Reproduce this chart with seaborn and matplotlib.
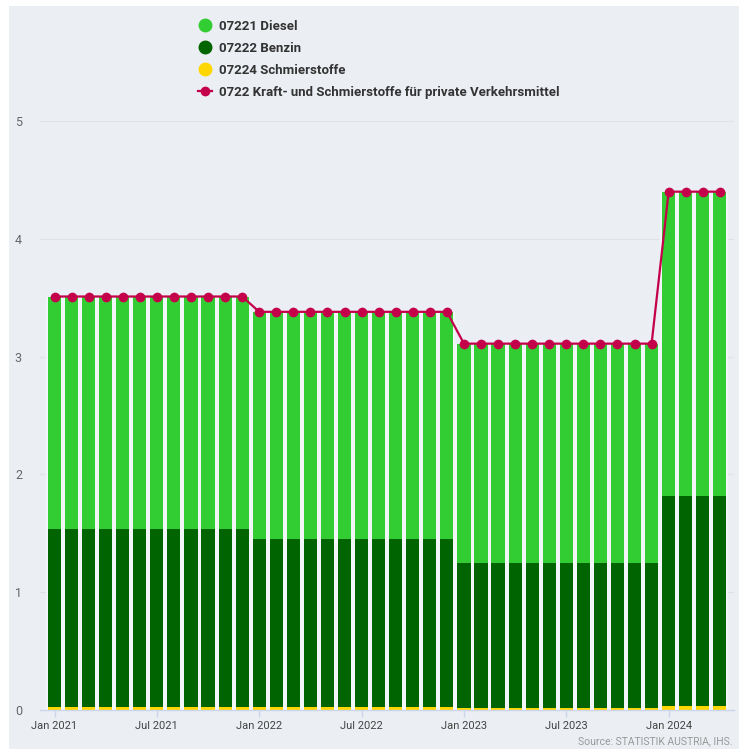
import numpy as np
import pandas as pd
import seaborn as sns
import matplotlib.pyplot as plt
from matplotlib.lines import Line2D
from matplotlib.patches import Rectangle

# Werte (Gewichte) je Monat, Jan 2021 - Apr 2024
monate = pd.date_range("2021-01-01", "2024-04-01", freq="MS").strftime("%b %Y").tolist()
diesel = [1.976] * 12 + [1.928] * 12 + [1.865] * 12 + [2.586] * 4
benzin = [1.509] * 12 + [1.427] * 12 + [1.232] * 12 + [1.784] * 4
schmier = [0.025] * 12 + [0.025] * 12 + [0.013] * 12 + [0.030] * 4
gesamt = [3.51] * 12 + [3.38] * 12 + [3.11] * 12 + [4.40] * 4

tick_pos = [0, 6, 12, 18, 24, 30, 36]
tick_labels = ["Jan 2021", "Jul 2021", "Jan 2022", "Jul 2022", "Jan 2023", "Jul 2023", "Jan 2024"]

labels = ["07221 Diesel", "07222 Benzin", "07224 Schmierstoffe",
          "0722 Kraft- und Schmierstoffe für private Verkehrsmittel"]
farben = ["#32cd32", "#006400", "#ffd700", "#c5004a"]

plt.rcParams['font.family'] = ['Roboto', 'DejaVu Sans']

fig = plt.figure(figsize=(7.39, 7.49), dpi=100)
bg = "#ebeef3"
fig.patches.append(Rectangle((9 / 739, 0), 730 / 739, 743 / 749, transform=fig.transFigure,
                             facecolor=bg, edgecolor="none", zorder=-5))
ax = fig.add_axes([40 / 739, (749 - 710) / 749, 694 / 739, (710 - 115.1) / 749])
ax.set_facecolor("none")

df = pd.DataFrame({"monat": monate, "diesel": diesel, "benzin": benzin, "schmier": schmier})
df["oben"] = df["diesel"] + df["benzin"] + df["schmier"]
df["mitte"] = df["benzin"] + df["schmier"]

# helle Lücken zwischen den Balken
sns.barplot(data=df, x="monat", y="oben", color="#f3f6f9", saturation=1, width=1.0,
            linewidth=0, errorbar=None, ax=ax, zorder=1)

# gestapelte Balken, von oben nach unten übermalt
for spalte, farbe in [("oben", farben[0]), ("mitte", farben[1]), ("schmier", farben[2])]:
    sns.barplot(data=df, x="monat", y=spalte, color=farbe, saturation=1, width=0.77,
                linewidth=0, errorbar=None, ax=ax, zorder=2)

sns.lineplot(x=np.arange(len(gesamt)), y=gesamt, color=farben[3], linewidth=1.6,
             marker="o", markersize=7, markeredgewidth=0, legend=False, ax=ax, zorder=3)

ax.set_xlim(-0.85, 39.83)
ax.set_ylim(0, 5.05)
ax.set_yticks([0, 1, 2, 3, 4, 5])
ax.grid(axis="y", color="#dfe3e8", linewidth=0.8, zorder=0)
ax.set_axisbelow(True)
ax.set_xticks(tick_pos)
ax.set_xticklabels(tick_labels)
ax.set_xlabel("")
ax.set_ylabel("")
for s in ["top", "right", "left"]:
    ax.spines[s].set_visible(False)
ax.spines["bottom"].set_color("#ccd6eb")
ax.spines["bottom"].set_linewidth(1)
ax.tick_params(axis="x", colors="#ccd6eb", length=5, width=1, labelsize=8, labelcolor="#444444", pad=3)
ax.tick_params(axis="y", length=0, labelsize=9, labelcolor="#666666", pad=13)

handles = [
    Line2D([], [], linestyle="none", marker="o", markersize=9, color=farben[0]),
    Line2D([], [], linestyle="none", marker="o", markersize=9, color=farben[1]),
    Line2D([], [], linestyle="none", marker="o", markersize=9, color=farben[2]),
    Line2D([], [], color=farben[3], linewidth=1.6, marker="o", markersize=6),
]
leg = fig.legend(handles, labels, loc="upper left", bbox_to_anchor=(186 / 739, 1 - 8 / 749),
                 frameon=False, handlelength=1.1, handletextpad=0.5, labelspacing=0.68,
                 prop={"size": 9.5, "weight": "bold"})
for t in leg.get_texts():
    t.set_color("#333333")

fig.text(733 / 739, 3 / 749, "Source: STATISTIK AUSTRIA, IHS.", ha="right", va="bottom",
         fontsize=7.5, color="#999999")

fig.savefig("out.png", dpi=100, facecolor="white")
